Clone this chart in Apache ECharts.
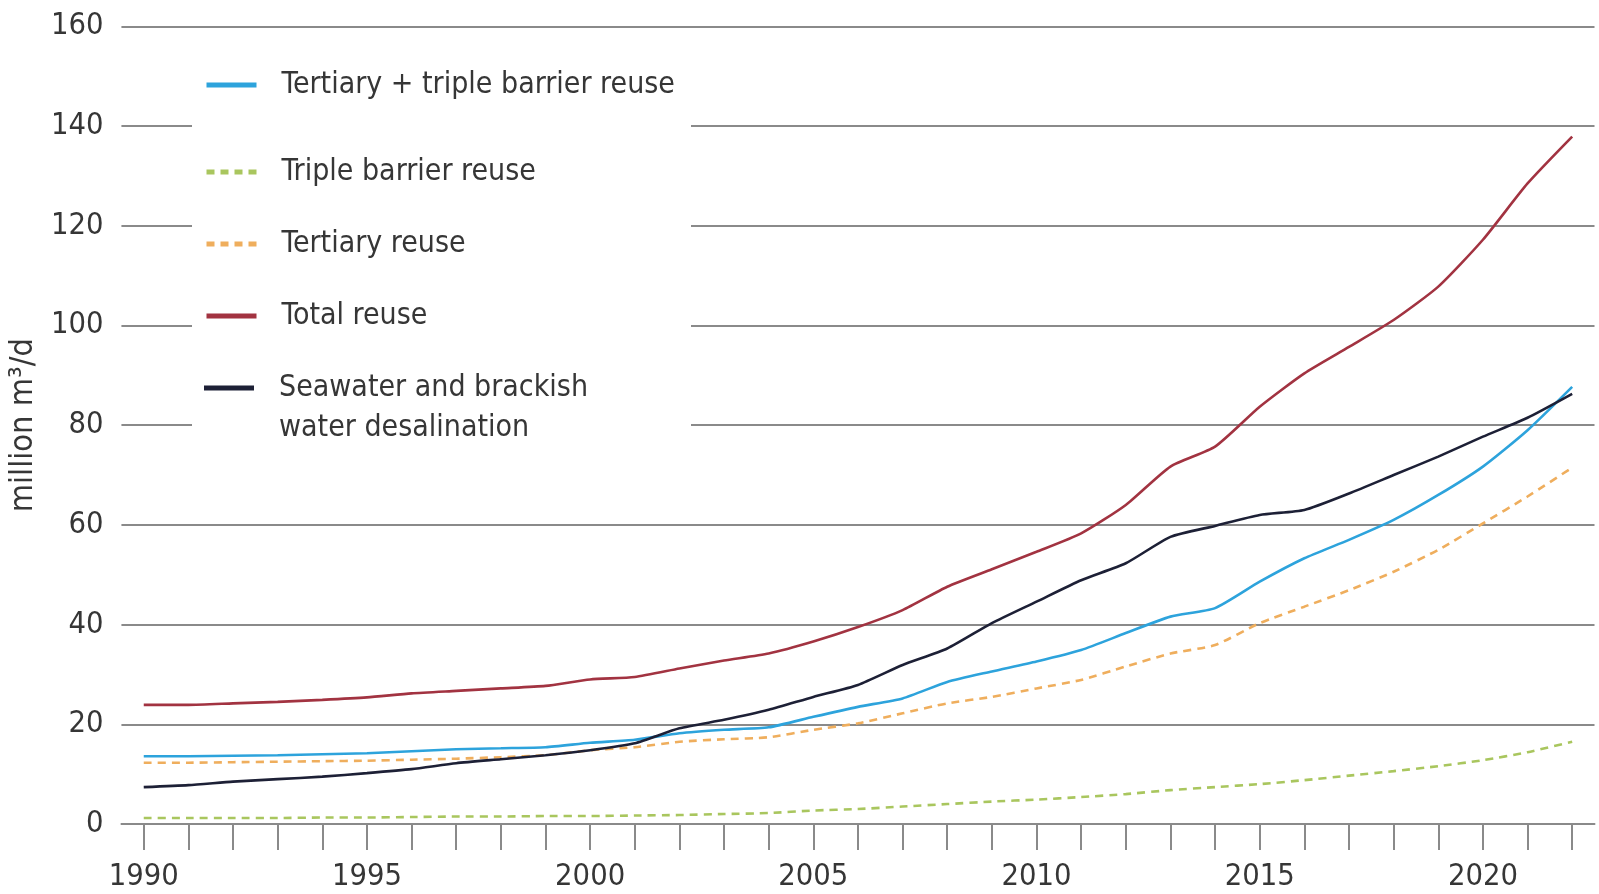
<!DOCTYPE html>
<html><head><meta charset="utf-8">
<script src="https://cdn.jsdelivr.net/npm/echarts@6/dist/echarts.min.js"></script>
<style>html,body{margin:0;padding:0;background:#fff}#c{width:1599px;height:894px}</style>
</head><body><div id="c"></div>
<script>
const years = ['1990','1991','1992','1993','1994','1995','1996','1997','1998','1999',
  '2000','2001','2002','2003','2004','2005','2006','2007','2008','2009',
  '2010','2011','2012','2013','2014','2015','2016','2017','2018','2019',
  '2020','2021','2022'];
const tertiaryPlusTriple = [13.6,13.6,13.7,13.8,14.0,14.2,14.6,15.0,15.2,15.4,
  16.3,16.9,18.2,18.9,19.4,21.5,23.5,25.2,28.5,30.6,
  32.6,34.9,38.3,41.6,43.3,48.6,53.3,57.0,61.0,66.0,
  71.7,79.0,87.7];
const tripleBarrier = [1.2,1.2,1.2,1.2,1.3,1.3,1.4,1.5,1.5,1.6,
  1.6,1.7,1.8,2.0,2.2,2.7,3.0,3.5,4.0,4.5,
  4.9,5.4,6.0,6.8,7.4,8.0,8.8,9.7,10.6,11.6,
  12.8,14.4,16.5];
const tertiary = [12.3,12.3,12.4,12.5,12.6,12.7,12.9,13.1,13.4,13.8,
  14.8,15.4,16.5,17.0,17.4,18.9,20.2,22.2,24.2,25.5,
  27.2,28.9,31.6,34.2,35.9,40.3,43.6,46.9,50.6,55.0,
  60.3,65.7,71.5];
const totalReuse = [23.9,23.9,24.2,24.5,24.9,25.4,26.2,26.7,27.2,27.7,
  29.0,29.5,31.2,32.8,34.2,36.6,39.5,42.9,47.6,51.1,
  54.6,58.3,64.0,71.7,75.7,83.7,90.4,95.7,101.1,107.8,
  117.2,128.5,137.9];
const desalination = [7.4,7.8,8.5,9.0,9.5,10.2,11.0,12.2,13.0,13.8,
  14.8,16.2,19.2,20.9,22.9,25.5,27.9,31.9,35.2,40.3,
  44.6,48.9,52.3,57.6,59.8,62.0,63.0,66.3,70.0,73.7,
  77.7,81.5,86.3];
const yTicks = [0,20,40,60,80,100,120,140,160];
const names = ['Tertiary + triple barrier reuse','Triple barrier reuse','Tertiary reuse','Total reuse','Seawater and brackish\nwater desalination'];

// pick the narrowest available font family
const ctx = document.createElement('canvas').getContext('2d');
function available(fam) {
  const s = 'abcdefghijklmnopqrstuvwxyz0123456789ABCDEF';
  ctx.font = '40px monospace'; const a = ctx.measureText(s).width;
  ctx.font = "40px '" + fam + "', monospace"; const b = ctx.measureText(s).width;
  ctx.font = '40px serif'; const c = ctx.measureText(s).width;
  ctx.font = "40px '" + fam + "', serif"; const d = ctx.measureText(s).width;
  return a !== b || c !== d;
}
const candidates = ['Liberation Sans Narrow','Arial Narrow','Noto Sans Condensed','Noto Sans SemiCondensed','DejaVu Sans Condensed','Liberation Sans'];
let fam = 'Liberation Sans';
for (const f of candidates) { if (available(f)) { fam = f; break; } }
const FONT = "'" + fam + "', sans-serif";
function fitSize(text, target, maxFs) {
  ctx.font = '40px ' + FONT;
  const w = ctx.measureText(text).width;
  return Math.min(maxFs, Math.round(40 * target / w * 10) / 10);
}
const legendFs = fitSize('Tertiary + triple barrier reuse', 394, 40);
const tickFs = fitSize('1990', 70, 38);
const nameFs = fitSize('million m³/d', 174, 36);

const TXT = '#363636';
const GRIDC = '#8a8a8a';
const colors = {blue:'#2da3dc', green:'#a9c65e', orange:'#efae5d', red:'#a23341', black:'#1d2036'};

const chart = echarts.init(document.getElementById('c'), null, {renderer:'canvas'});

function mkSeries(name, data, color, dashed, z) {
  return {
    name: name, type: 'line', data: data, color: color,
    symbol: 'none', smooth: 0.2, z: z,
    lineStyle: {color: color, width: 2.6, type: dashed ? [8, 6] : 'solid'},
    itemStyle: {color: color}
  };
}

const legendBase = {
  orient: 'vertical', left: 204, itemWidth: 50, itemHeight: 14,
  padding: 0, z: 10,
  itemStyle: {opacity: 0},
  lineStyle: {width: 5},
  textStyle: {fontFamily: FONT, fontSize: legendFs, lineHeight: 40, color: TXT, padding: [0,0,0,20]}
};

chart.setOption({
  animation: false,
  backgroundColor: '#fff',
  grid: {left: 119.35, right: 4.5, top: 26.4, bottom: 70, containLabel: false},
  xAxis: {
    type: 'category', data: years, boundaryGap: true,
    axisLine: {show: true, lineStyle: {color: GRIDC, width: 2}},
    axisTick: {show: true, alignWithLabel: true, interval: 0, length: 26, lineStyle: {color: GRIDC, width: 2}},
    axisLabel: {interval: 4, margin: 53 - tickFs / 2, fontFamily: FONT, fontSize: tickFs, color: TXT},
    splitLine: {show: false}
  },
  yAxis: {
    type: 'value', min: yTicks[0], max: yTicks[yTicks.length-1], interval: 20,
    name: 'million m³/d', nameLocation: 'middle', nameRotate: 90, nameGap: 56,
    nameTextStyle: {fontFamily: FONT, fontSize: nameFs, color: TXT},
    axisLine: {show: false}, axisTick: {show: false},
    axisLabel: {margin: 18, fontFamily: FONT, fontSize: tickFs, color: TXT},
    splitLine: {show: true, lineStyle: {color: GRIDC, width: 2}}
  },
  graphic: [{
    type: 'rect', z: 5, silent: true,
    shape: {x: 192, y: 40, width: 499, height: 418},
    style: {fill: '#ffffff'}
  }],
  legend: [
    Object.assign({}, legendBase, {top: 65, data: [names[0]]}),
    Object.assign({}, legendBase, {top: 152, itemGap: 32, data: [names[1], names[2], names[3]]}),
    Object.assign({}, legendBase, {top: 368, itemHeight: 80,
      itemStyle: {borderWidth: 0, opacity: 1},
      data: [{name: names[4], icon: 'path://M0,0L50,0L50,0ZM0,17.5L50,17.5L50,22.5L0,22.5ZM0,80L50,80L50,80Z'}]})
  ],
  series: [
    mkSeries(names[1], tripleBarrier, colors.green, true, 2),
    mkSeries(names[2], tertiary, colors.orange, true, 3),
    mkSeries(names[0], tertiaryPlusTriple, colors.blue, false, 4),
    mkSeries(names[4], desalination, colors.black, false, 5),
    mkSeries(names[3], totalReuse, colors.red, false, 6)
  ]
});
</script></body></html>
